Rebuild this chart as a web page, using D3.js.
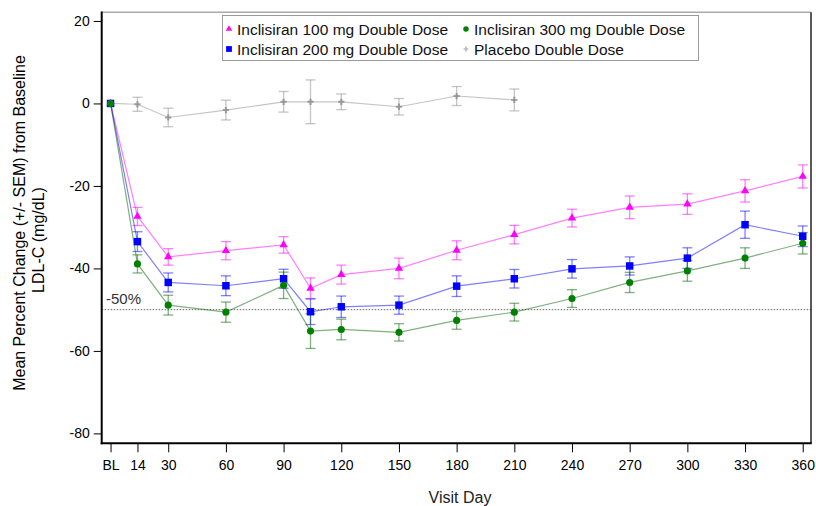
<!DOCTYPE html>
<html>
<head>
<meta charset="utf-8">
<script src="https://cdn.jsdelivr.net/npm/d3@7"></script>
<style>
  html, body { margin: 0; padding: 0; background: #fff; }
  svg { display: block; font-family: "Liberation Sans", Arial, sans-serif; }
</style>
</head>
<body>
<svg id="chart" width="816" height="506"></svg>
<script>
// ---- data ----
const days = [0, 14, 30, 60, 90, 104, 120, 150, 180, 210, 240, 270, 300, 330, 360];
const tickDays = [0, 14, 30, 60, 90, 120, 150, 180, 210, 240, 270, 300, 330, 360];
const tickLabels = ["BL", "14", "30", "60", "90", "120", "150", "180", "210", "240", "270", "300", "330", "360"];
const yTicks = [20, 0, -20, -40, -60, -80];

const mean100 = [0, -27.4, -37.2, -35.7, -34.3, -44.8, -41.5, -40.0, -35.6, -31.8, -27.8, -25.2, -24.4, -21.2, -17.7];
const sem100  = [0, 2.2, 2.0, 2.2, 2.0, 2.5, 2.3, 2.5, 2.3, 2.25, 2.15, 2.75, 2.5, 2.7, 2.8];
const mean200 = [0, -33.5, -43.4, -44.2, -42.5, -50.5, -49.3, -48.9, -44.3, -42.5, -40.1, -39.4, -37.5, -29.4, -32.2];
const sem200  = [0, 2.4, 2.3, 2.4, 2.3, 3.1, 2.6, 2.2, 2.5, 2.25, 2.25, 2.2, 2.5, 3.3, 2.5];
const mean300 = [0, -38.9, -48.9, -50.6, -44.1, -55.2, -54.8, -55.5, -52.6, -50.6, -47.3, -43.4, -40.6, -37.5, -33.9];
const sem300  = [0, 2.2, 2.4, 2.45, 3.2, 4.2, 2.5, 2.1, 2.15, 2.15, 2.15, 2.45, 2.5, 2.5, 2.6];
const daysPbo = [0, 14, 30, 60, 90, 104, 120, 150, 180, 210];
const meanPbo = [0, -0.2, -3.4, -1.6, 0.4, 0.4, 0.4, -0.8, 1.8, 0.85];
const semPbo  = [0, 1.7, 2.25, 2.4, 2.5, 5.3, 1.9, 2.0, 2.3, 2.65];

const seriesNames = ["Inclisiran 100 mg Double Dose", "Inclisiran 200 mg Double Dose",
                     "Inclisiran 300 mg Double Dose", "Placebo Double Dose"];
const refValue = -50;
const refLabel = "-50%";

// ---- layout ----
const svg = d3.select("#chart");
const L = 101.7, R = 811, T = 12.3, B = 443.3;
const x = d3.scaleLinear().domain([-4.6, 364.3]).range([L, R]);
const y = d3.scaleLinear().domain([-82.4, 22.1]).range([B, T]);

const series = [
  { name: seriesNames[0], d: days, m: mean100, s: sem100, color: "#ff00ff", line: "#ff00ff", sym: d3.symbolTriangle, size: 30 },
  { name: seriesNames[1], d: days, m: mean200, s: sem200, color: "#0000ff", line: "#0000ff", sym: d3.symbolSquare, size: 56 },
  { name: seriesNames[2], d: days, m: mean300, s: sem300, color: "#008000", line: "#006400", sym: d3.symbolCircle, size: 40 },
  { name: seriesNames[3], d: daysPbo, m: meanPbo, s: semPbo, color: "#8c8c8c", line: "#8c8c8c", sym: d3.symbolCross, size: 22 }
];

// reference line
svg.append("line")
  .attr("x1", L).attr("x2", R).attr("y1", y(refValue)).attr("y2", y(refValue))
  .attr("stroke", "#666").attr("stroke-width", 1).attr("stroke-dasharray", "1.5,1.5");
svg.append("text").attr("x", 106).attr("y", y(refValue) - 5.5)
  .attr("font-size", 15).attr("fill", "#333").text(refLabel);

// frame
svg.append("line").attr("x1", L).attr("x2", R).attr("y1", T).attr("y2", T)
  .attr("stroke", "#aaa").attr("stroke-width", 1.5);
svg.append("line").attr("x1", R).attr("x2", R).attr("y1", T).attr("y2", B)
  .attr("stroke", "#222").attr("stroke-width", 1.5);

// series
const order = [3, 0, 1, 2];
order.forEach(i => {
  const sr = series[i];
  const pts = sr.d.map((d, k) => ({ d, m: sr.m[k], s: sr.s[k] }));
  const g = svg.append("g");
  pts.forEach(p => {
    if (p.s <= 0) return;
    const eb = g.append("g").attr("stroke", sr.line).attr("stroke-opacity", 0.5).attr("stroke-width", 1.3);
    eb.append("line").attr("x1", x(p.d)).attr("x2", x(p.d)).attr("y1", y(p.m + p.s)).attr("y2", y(p.m - p.s));
    eb.append("line").attr("x1", x(p.d) - 5).attr("x2", x(p.d) + 5).attr("y1", y(p.m + p.s)).attr("y2", y(p.m + p.s));
    eb.append("line").attr("x1", x(p.d) - 5).attr("x2", x(p.d) + 5).attr("y1", y(p.m - p.s)).attr("y2", y(p.m - p.s));
  });
  g.append("path").datum(pts)
    .attr("d", d3.line().x(p => x(p.d)).y(p => y(p.m)))
    .attr("fill", "none").attr("stroke", sr.line).attr("stroke-opacity", 0.5).attr("stroke-width", 1.2);
});
order.forEach(i => {
  const sr = series[i];
  const pts = sr.d.map((d, k) => ({ d, m: sr.m[k] }));
  const sym = d3.symbol().type(sr.sym).size(sr.size);
  svg.append("g").selectAll("path").data(pts).join("path")
    .attr("transform", p => `translate(${x(p.d)},${y(p.m)})`)
    .attr("d", sym)
    .attr("fill", sr.color)
    .attr("opacity", i === 3 ? 0.8 : 1);
});

// axes
const yAxis = d3.axisLeft(y).tickValues(yTicks).tickSize(8).tickPadding(4).tickFormat(d => String(d));
const gy = svg.append("g").attr("transform", `translate(${L},0)`).call(yAxis);
gy.select(".domain").remove();
gy.selectAll("text").attr("font-size", 14).attr("fill", "#000").attr("font-family", "Liberation Sans, Arial, sans-serif");

const xAxis = d3.axisBottom(x).tickValues(tickDays).tickSize(9).tickPadding(8)
  .tickFormat((d, k) => tickLabels[k]);
const gx = svg.append("g").attr("transform", `translate(0,${B})`).call(xAxis);
gx.select(".domain").remove();
gx.selectAll("text").attr("font-size", 14).attr("fill", "#000").attr("font-family", "Liberation Sans, Arial, sans-serif");

svg.append("line").attr("x1", L).attr("x2", L).attr("y1", T - 0.75).attr("y2", B + 1)
  .attr("stroke", "#000").attr("stroke-width", 2);
svg.append("line").attr("x1", L - 1).attr("x2", R + 0.75).attr("y1", B).attr("y2", B)
  .attr("stroke", "#000").attr("stroke-width", 2);

// axis titles
svg.append("text").attr("x", 460).attr("y", 503).attr("text-anchor", "middle")
  .attr("font-size", 16).attr("fill", "#222").text("Visit Day");
svg.append("text").attr("transform", "translate(25,223) rotate(-90)").attr("text-anchor", "middle")
  .attr("font-size", 16).attr("fill", "#000").text("Mean Percent Change (+/- SEM) from Baseline");
svg.append("text").attr("transform", "translate(44,240) rotate(-90)").attr("text-anchor", "middle")
  .attr("font-size", 16).attr("fill", "#000").text("LDL-C (mg/dL)");

// legend
const lg = svg.append("g");
lg.append("rect").attr("x", 222.5).attr("y", 15.5).attr("width", 476).attr("height", 45)
  .attr("fill", "#fff").attr("stroke", "#999").attr("stroke-width", 1);
const legPos = [[229, 29], [229, 49], [466, 29], [466, 49]];
series.forEach((sr, i) => {
  const [lx, ly] = legPos[i];
  lg.append("path").attr("transform", `translate(${lx},${ly})`)
    .attr("d", d3.symbol().type(sr.sym).size(sr.size * 0.6)).attr("fill", sr.color)
    .attr("opacity", i === 3 ? 0.6 : 1);
  lg.append("text").attr("x", lx + 8).attr("y", ly + 5.5).attr("font-size", 15.5)
    .attr("fill", "#111").text(sr.name);
});
</script>
</body>
</html>
